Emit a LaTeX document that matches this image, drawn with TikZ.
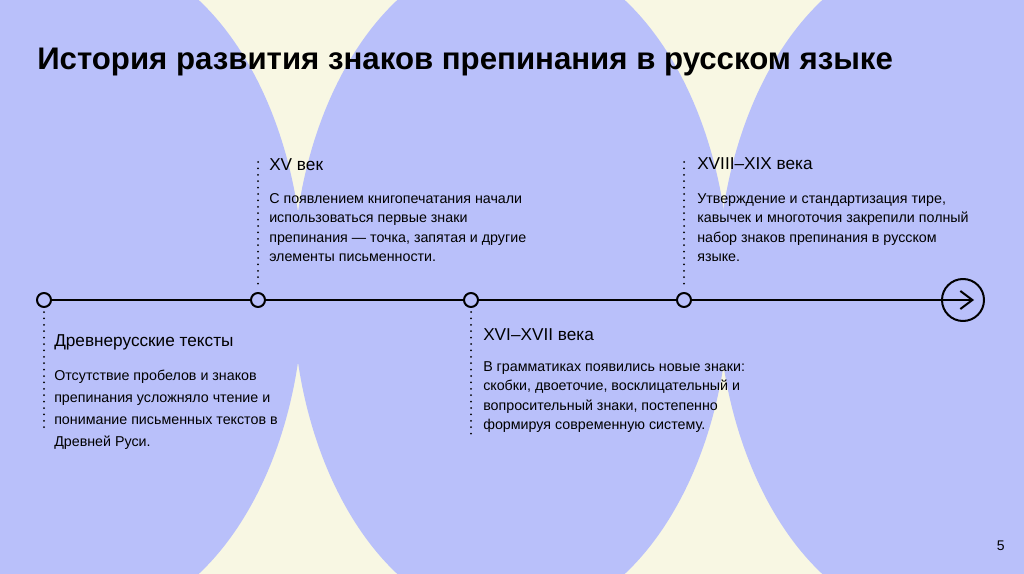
\documentclass[tikz,border=0pt]{standalone}
\usepackage{fontspec}
\setmainfont{Liberation Sans}
\usetikzlibrary{arrows.meta}

\definecolor{bgcream}{HTML}{F8F7E3}
\definecolor{bglilac}{HTML}{B9C0FA}

\begin{document}
\begin{tikzpicture}[
  x=0.75pt,
  y=-0.75pt,
  line join=round,
  axis/.style={draw=black,line width=1.5pt},
  stop/.style={circle,draw=black,line width=1.5pt,fill=bglilac,minimum size=10.5pt,inner sep=0pt},
  goal/.style={circle,draw=black,line width=1.5pt,minimum size=31.5pt,inner sep=0pt},
  guide/.style={draw=black,line width=1.5pt,line cap=round,dash pattern=on 0pt off 4.8pt},
  title/.style={anchor=base west,inner sep=0pt,font=\fontsize{23.4}{28}\selectfont\bfseries},
  era/.style={anchor=base west,inner sep=0pt,font=\fontsize{12.9}{15}\selectfont},
  note/.style={anchor=base west,inner sep=0pt,align=left,font=\fontsize{10.7}{14.6}\selectfont}
]
  % Backdrop: cream page with three large lilac ovals.
  \useasboundingbox (0,0) rectangle (1024,574);
  \fill[bgcream] (0,0) rectangle (1024,574);
  \begin{scope}
    \clip (0,0) rectangle (1024,574);
    \foreach \cx in {85,511,936} {
      \fill[bglilac] (\cx,287) ellipse[x radius=218.5,y radius=336];
    }
  \end{scope}

  % Title.
  \node[title] (title) at (37,70) {История развития знаков препинания в русском языке};

  % Timeline stops.
  \node[stop] (s1) at (44,300) {};
  \node[stop] (s2) at (258,300) {};
  \node[stop] (s3) at (471,300) {};
  \node[stop] (s4) at (684,300) {};
  \node[goal] (goal) at (963,300) {};
  \coordinate (tip) at (974,300);

  \draw[axis] (s1) -- (s2);
  \draw[axis] (s2) -- (s3);
  \draw[axis] (s3) -- (s4);
  \draw[axis,-{Straight Barb[length=9pt,width=13.5pt]}] (s4) -- (tip);

  % Dotted guides to the captions.
  \coordinate (g1) at (44,433);
  \coordinate (g2) at (258,162);
  \coordinate (g3) at (471,434);
  \coordinate (g4) at (684,162);
  \draw[guide,shorten <=3pt] (s1) -- (g1);
  \draw[guide,shorten >=6pt] (g2) -- (s2);
  \draw[guide,shorten <=3pt] (s3) -- (g3);
  \draw[guide,shorten >=6pt] (g4) -- (s4);

  % Captions (notes sit on the baseline of their last line).
  \node[era] (e1) at (54,346) {Древнерусские тексты};
  \node[note,font=\fontsize{10.7}{16.3}\selectfont] (n1) at (54,446)
    {Отсутствие пробелов и знаков\\препинания усложняло чтение и\\понимание письменных текстов в\\Древней Руси.};

  \node[era] (e2) at (269,170.5) {XV век};
  \node[note] (n2) at (269,261.5)
    {С появлением книгопечатания начали\\использоваться первые знаки\\препинания — точка, запятая и другие\\элементы письменности.};

  \node[era] (e3) at (483,340.5) {XVI–XVII века};
  \node[note] (n3) at (483,429.5)
    {В грамматиках появились новые знаки:\\скобки, двоеточие, восклицательный и\\вопросительный знаки, постепенно\\формируя современную систему.};

  \node[era] (e4) at (697,170) {XVIII–XIX века};
  \node[note] (n4) at (697,261.5)
    {Утверждение и стандартизация тире,\\кавычек и многоточия закрепили полный\\набор знаков препинания в русском\\языке.};

  % Page number.
  \node[anchor=base east,inner sep=0pt,font=\fontsize{10.5}{12}\selectfont] (page) at (1005,550) {5};
\end{tikzpicture}
\end{document}
